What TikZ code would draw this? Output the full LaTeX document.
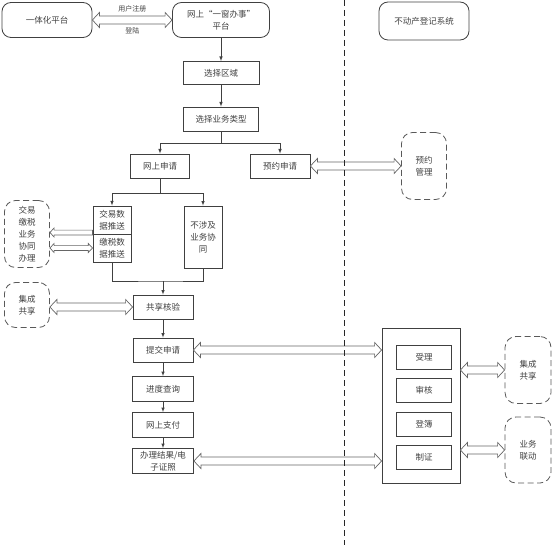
\documentclass[tikz,border=0pt]{standalone}
\usepackage{fontspec}
\setmainfont{Noto Sans CJK SC}
\usetikzlibrary{calc}
% flecha hueca horizontal de doble punta: [tamano]{izq}{der}
\newcommand{\hdbl}[3][1]{%
  \filldraw[hollow] let \p1=(#2), \p2=(#3) in
    (\x1,\y1) -- ++({7pt*#1},{7.5pt*#1}) -- ++(0pt,{-3.5pt*#1}) -- ({\x2-7pt*#1},{\y1+4pt*#1})
    -- ++(0pt,{3.5pt*#1}) -- (\x2,\y1) -- ++({-7pt*#1},{-7.5pt*#1}) -- ++(0pt,{3.5pt*#1})
    -- ({\x1+7pt*#1},{\y1-4pt*#1}) -- ++(0pt,{-3.5pt*#1}) -- cycle;}
% flecha hueca de una punta (hacia la izquierda)
\newcommand{\hsgl}[3][1]{%
  \filldraw[hollow] let \p1=(#2), \p2=(#3) in
    (\x1,\y1) -- ++({7pt*#1},{7.5pt*#1}) -- ++(0pt,{-3.5pt*#1}) -- (\x2,{\y1+4pt*#1})
    -- (\x2,{\y1-4pt*#1}) -- ({\x1+7pt*#1},{\y1-4pt*#1}) -- ++(0pt,{-3.5pt*#1}) -- cycle;}
\begin{document}
\begin{tikzpicture}[>=latex, x=1pt, y=-1pt,
  box/.style={draw=black!75, line width=0.8pt, text=black!75, font=\fontsize{8.5}{12}\selectfont, align=center, inner sep=1pt},
  rbox/.style={box, rounded corners=9pt},
  dbox/.style={box, draw=black!65, dash pattern=on 6pt off 3.5pt, rounded corners=11pt},
  flow/.style={->, draw=black!75, line width=0.6pt},
  hollow/.style={draw=black!60, fill=white, line width=0.7pt, line join=miter},
  lbl/.style={text=black!75, font=\fontsize{7}{8}\selectfont}]
\useasboundingbox (0,0) rectangle (553,545);
% plataformas
\node[rbox, minimum width=90, minimum height=35] (ythpt) at (47,20) {一体化平台};
\node[rbox, minimum width=97, minimum height=35] (pt) at (221,20) {网上“一窗办事”\\平台};
\node[rbox, minimum width=90, minimum height=38] (bdcxt) at (424,21) {不动产登记系统};
% flujo principal
\node[box, minimum width=76, minimum height=23] (xzqy) at (221,73) {选择区域};
\node[box, minimum width=75, minimum height=24] (ywlx) at (221,119) {选择业务类型};
\node[box, minimum width=59, minimum height=24] (wssq) at (160,166) {网上申请};
\node[box, minimum width=60, minimum height=24] (yysq) at (280,166) {预约申请};
\node[box, minimum width=38, minimum height=28, line width=1pt] (jysj) at (112,220) {交易数\\据推送};
\node[box, minimum width=38, minimum height=28, line width=1pt] (jssj) at (112,248) {缴税数\\据推送};
\node[box, minimum width=38, minimum height=62] (bsj) at (203,237) {不涉及\\业务协\\同};
\node[box, minimum width=60, minimum height=24] (gxhy) at (163,307) {共享核验};
\node[box, minimum width=60, minimum height=24] (tjsq) at (163,350) {提交申请};
\node[box, minimum width=61, minimum height=25] (jdcx) at (163,389) {进度查询};
\node[box, minimum width=61, minimum height=25] (wszf) at (163,425) {网上支付};
\node[box, minimum width=61, minimum height=25] (bljg) at (163,461) {办理结果/电\\子证照};
% cajas externas
\node[dbox, minimum width=45, minimum height=67] (jyyw) at (27,234) {交易\\缴税\\业务\\协同\\办理};
\node[dbox, minimum width=45, minimum height=45] (jcgxa) at (27,305) {集成\\共享};
\node[dbox, minimum width=45, minimum height=67] (yygl) at (424,166) {预约\\管理};
\node[dbox, minimum width=46, minimum height=67] (jcgxb) at (528,370) {集成\\共享};
\node[dbox, minimum width=46, minimum height=66] (ywld) at (528,450) {业务\\联动};
% sistema de registro
\node[box, minimum width=78, minimum height=155] (djk) at (421,406) {};
\node[box, minimum width=55, minimum height=24] (sl) at (424,357) {受理};
\node[box, minimum width=55, minimum height=24] (sh) at (424,390) {审核};
\node[box, minimum width=55, minimum height=24] (db) at (424,424) {登簿};
\node[box, minimum width=55, minimum height=24] (zz) at (424,457) {制证};
% flechas
\coordinate (c1) at (221,143);
\coordinate (c2) at (160,193);
\coordinate (c3) at (163,281);
\draw[flow] (pt) -- (xzqy);
\draw[flow] (xzqy) -- (ywlx);
\draw[flow, -] (ywlx) -- (c1);
\draw[flow] (c1) -| (wssq);
\draw[flow] (c1) -| (yysq);
\draw[flow, -] (wssq) -- (c2);
\draw[flow] (c2) -| (jysj);
\draw[flow] (c2) -| (bsj);
\draw[flow, -] (jssj) |- (c3) -| (bsj);
\draw[flow] (c3) -- (gxhy);
\draw[flow] (gxhy) -- (tjsq);
\draw[flow] (tjsq) -- (jdcx);
\draw[flow] (jdcx) -- (wszf);
\draw[flow] (wszf) -- (bljg);
% flechas dobles
\hdbl{ythpt.east}{pt.west}
\path (ythpt.east) -- (pt.west) node[lbl, midway, above=4.5pt] (yhzc) {用户注册}
  node[lbl, midway, below=4.5pt] (dl) {登陆};
\hdbl{yysq.east}{yysq.east -| yygl.west}
\hsgl[0.6]{$(jysj.south west -| jyyw.east)+(0,-2)$}{$(jysj.south west)+(0,-2)$}
\hdbl[0.6]{jssj.west -| jyyw.east}{jssj.west}
\hdbl{gxhy.west -| jcgxa.east}{gxhy.west}
\hdbl{tjsq.east}{tjsq.east -| djk.west}
\hdbl{bljg.east}{bljg.east -| djk.west}
\hdbl{djk.east |- jcgxb}{jcgxb.west}
\hdbl{djk.east |- ywld}{ywld.west}
% division
\draw[black!85, line width=1pt, dash pattern=on 6pt off 4pt] (344,0) -- (344,545);
\end{tikzpicture}
\end{document}
